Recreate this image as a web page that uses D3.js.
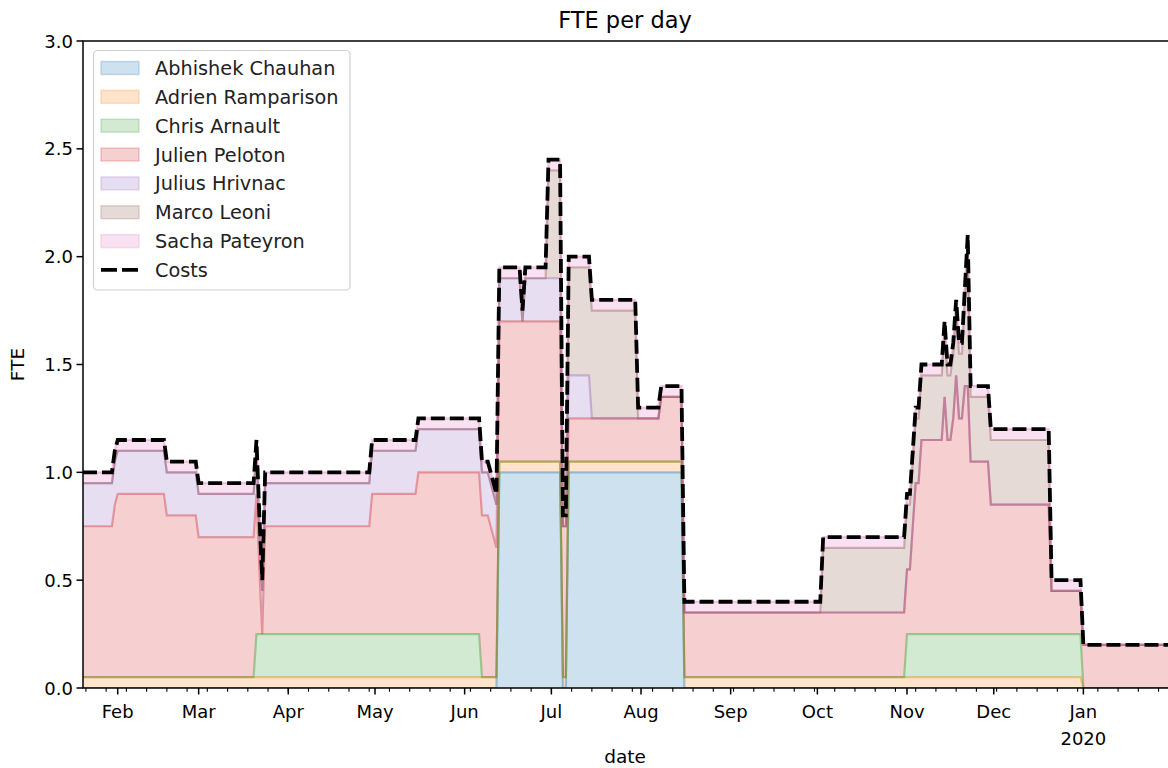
<!DOCTYPE html>
<html>
<head>
<meta charset="utf-8">
<script src="https://cdn.jsdelivr.net/npm/d3@7"></script>
<style>
  body { margin: 0; background: #fff; }
  svg { display: block; font-family: "DejaVu Sans", sans-serif; }
</style>
</head>
<body>
<svg id="chart" width="1168" height="768"></svg>
<script>
// FTE per person as change points: [first day, value held from that day on]
var names = ["Abhishek Chauhan", "Adrien Ramparison", "Chris Arnault", "Julien Peloton", "Julius Hrivnac", "Marco Leoni", "Sacha Pateyron"];
var colors = ["#1f77b4", "#ff7f0e", "#2ca02c", "#d62728", "#9467bd", "#8c564b", "#e377c2"];

var abhishek = [["2019-01-20", 0], ["2019-06-13", 1.0], ["2019-07-05", 0], ["2019-07-07", 1.0], ["2019-08-16", 0]];
var adrien = [["2019-01-20", 0.05], ["2020-01-01", 0]];
var chris = [["2019-01-20", 0], ["2019-03-21", 0.2], ["2019-06-07", 0], ["2019-11-01", 0.2], ["2020-01-01", 0]];
var julien = [["2019-01-20", 0.7], ["2019-01-31", 0.8], ["2019-02-01", 0.85], ["2019-02-18", 0.75], ["2019-03-01", 0.65],
  ["2019-03-22", 0.3], ["2019-03-23", 0], ["2019-03-24", 0.5], ["2019-04-30", 0.65], ["2019-05-16", 0.75],
  ["2019-06-10", 0.7], ["2019-06-11", 0.65], ["2019-06-12", 0.6], ["2019-06-13", 0.65], ["2019-07-05", 0.7],
  ["2019-07-07", 0.2], ["2019-08-08", 0.3], ["2019-11-03", 0.5], ["2019-11-04", 0.7], ["2019-11-06", 0.9],
  ["2019-11-14", 1.1], ["2019-11-15", 0.9], ["2019-11-17", 1.0], ["2019-11-18", 1.2], ["2019-11-19", 1.0],
  ["2019-11-21", 1.15], ["2019-11-23", 0.8], ["2019-11-30", 0.6], ["2019-12-21", 0.2]];
var julius = [["2019-01-20", 0.2], ["2019-06-21", 0], ["2019-06-22", 0.2], ["2019-07-05", 0], ["2019-07-07", 0.2], ["2019-07-15", 0]];
var marco = [["2019-01-20", 0], ["2019-06-30", 0.5], ["2019-07-05", 0], ["2019-07-07", 0.5], ["2019-07-31", 0],
  ["2019-10-03", 0.3], ["2019-11-21", 0.4], ["2019-11-22", 0.65], ["2019-11-23", 0.3], ["2019-12-21", 0]];
var sacha = [["2019-01-20", 0.05], ["2020-01-01", 0]];

var costs = [["2019-01-20", 1.0], ["2019-01-31", 1.1], ["2019-02-01", 1.15], ["2019-02-18", 1.05], ["2019-03-01", 0.95],
  ["2019-03-21", 1.15], ["2019-03-22", 0.8], ["2019-03-23", 0.5], ["2019-03-24", 1.0], ["2019-04-30", 1.15],
  ["2019-05-16", 1.25], ["2019-06-07", 1.05], ["2019-06-10", 1.0], ["2019-06-11", 0.95], ["2019-06-12", 0.9],
  ["2019-06-13", 1.95], ["2019-06-21", 1.75], ["2019-06-22", 1.95], ["2019-06-30", 2.45], ["2019-07-05", 0.8],
  ["2019-07-07", 2.0], ["2019-07-15", 1.8], ["2019-07-31", 1.3], ["2019-08-08", 1.4], ["2019-08-16", 0.4],
  ["2019-10-03", 0.7], ["2019-11-01", 0.9], ["2019-11-03", 1.1], ["2019-11-04", 1.3], ["2019-11-06", 1.5],
  ["2019-11-14", 1.7], ["2019-11-15", 1.5], ["2019-11-17", 1.6], ["2019-11-18", 1.8], ["2019-11-19", 1.6],
  ["2019-11-21", 1.85], ["2019-11-22", 2.1], ["2019-11-23", 1.4], ["2019-11-30", 1.2], ["2019-12-21", 0.5],
  ["2020-01-01", 0.2]];

var firstDay = "2019-01-20", lastDay = "2020-02-01";
var yTicks = [0, 0.5, 1.0, 1.5, 2.0, 2.5, 3.0];

var parse = d3.timeParse("%Y-%m-%d");
var series = [abhishek, adrien, chris, julien, julius, marco, sacha];

function valueOn(changes, day) {
    var v = 0;
    changes.forEach(function (c) { if (parse(c[0]) <= day) v = c[1]; });
    return v;
}

// one row per day, like the daily frame the chart was made from
var start = parse(firstDay), end = parse(lastDay);
var days = d3.timeDay.range(start, d3.timeDay.offset(end, 1));
var rows = days.map(function (day) {
    var row = { date: day, Costs: valueOn(costs, day) };
    names.forEach(function (n, i) { row[n] = valueOn(series[i], day); });
    return row;
});

var margin = { left: 83, right: 1173, top: 41, bottom: 688 };
var svg = d3.select("#chart");

var x = d3.scaleTime().domain([start, end]).range([margin.left, margin.right]);
var y = d3.scaleLinear().domain([0, 3]).range([margin.bottom, margin.top]);

svg.append("defs").append("clipPath").attr("id", "plot")
    .append("rect")
    .attr("x", margin.left).attr("y", margin.top)
    .attr("width", margin.right - margin.left).attr("height", margin.bottom - margin.top);

var stacked = d3.stack().keys(names)(rows);

var area = d3.area()
    .x(function (d) { return x(d.data.date); })
    .y0(function (d) { return y(d[0]); })
    .y1(function (d) { return y(d[1]); });
var topLine = d3.line()
    .x(function (d) { return x(d.data.date); })
    .y(function (d) { return y(d[1]); });

var plot = svg.append("g").attr("clip-path", "url(#plot)");
stacked.forEach(function (layer, i) {
    plot.append("path")
        .attr("d", topLine(layer))
        .attr("fill", "none")
        .attr("stroke", colors[i])
        .attr("stroke-opacity", 0.4)
        .attr("stroke-width", 2.2);
    plot.append("path")
        .attr("d", area(layer))
        .attr("fill", colors[i])
        .attr("fill-opacity", 0.22);
});

var costLine = d3.line()
    .x(function (d) { return x(d.date); })
    .y(function (d) { return y(d.Costs); });
plot.append("path")
    .attr("d", costLine(rows))
    .attr("fill", "none")
    .attr("stroke", "#000")
    .attr("stroke-width", 3.8)
    .attr("stroke-dasharray", "14,5");

// axes
var xAxisG = svg.append("g");
var majors = d3.timeMonth.range(d3.timeMonth.ceil(start), end);
var minors = d3.timeMonday.range(start, end);
xAxisG.selectAll(".minor").data(minors).enter().append("line")
    .attr("x1", function (d) { return x(d); }).attr("x2", function (d) { return x(d); })
    .attr("y1", margin.bottom).attr("y2", margin.bottom + 3.7)
    .attr("stroke", "#000").attr("stroke-width", 1.1);
xAxisG.selectAll(".major").data(majors).enter().append("line")
    .attr("x1", function (d) { return x(d); }).attr("x2", function (d) { return x(d); })
    .attr("y1", margin.bottom).attr("y2", margin.bottom + 6.5)
    .attr("stroke", "#000").attr("stroke-width", 1.5);
var fmtMonth = d3.timeFormat("%b"), fmtYear = d3.timeFormat("%Y");
majors.forEach(function (d) {
    xAxisG.append("text")
        .attr("x", x(d)).attr("y", 718)
        .attr("text-anchor", "middle")
        .attr("font-size", 18).attr("fill", "#000")
        .text(fmtMonth(d));
    if (d.getMonth() === 0) {
        xAxisG.append("text")
            .attr("x", x(d)).attr("y", 745)
            .attr("text-anchor", "middle")
            .attr("font-size", 18).attr("fill", "#000")
            .text(fmtYear(d));
    }
});

var yAxisG = svg.append("g");
yTicks.forEach(function (v) {
    yAxisG.append("line")
        .attr("x1", margin.left - 6.5).attr("x2", margin.left)
        .attr("y1", y(v)).attr("y2", y(v))
        .attr("stroke", "#000").attr("stroke-width", 1.5);
    yAxisG.append("text")
        .attr("x", margin.left - 10).attr("y", y(v) + 6.5)
        .attr("text-anchor", "end")
        .attr("font-size", 18).attr("fill", "#000")
        .text(d3.format(".1f")(v));
});

// spines
svg.append("rect")
    .attr("x", margin.left).attr("y", margin.top)
    .attr("width", margin.right - margin.left).attr("height", margin.bottom - margin.top)
    .attr("fill", "none").attr("stroke", "#000").attr("stroke-width", 1.5);

svg.append("text")
    .attr("x", 625).attr("y", 28)
    .attr("text-anchor", "middle").attr("font-size", 22.5).attr("fill", "#000")
    .text("FTE per day");
svg.append("text")
    .attr("x", 625).attr("y", 763)
    .attr("text-anchor", "middle").attr("font-size", 18.5).attr("fill", "#000")
    .text("date");
svg.append("text")
    .attr("transform", "translate(24," + ((margin.top + margin.bottom) / 2) + ") rotate(-90)")
    .attr("text-anchor", "middle").attr("font-size", 18.5).attr("fill", "#000")
    .text("FTE");

// legend
var legend = svg.append("g");
legend.append("rect")
    .attr("x", 93.5).attr("y", 50.5).attr("width", 256.5).attr("height", 239.5)
    .attr("rx", 4).attr("fill", "#fff").attr("fill-opacity", 0.8)
    .attr("stroke", "#d0d0d0").attr("stroke-width", 1.2);
names.concat(["Costs"]).forEach(function (n, i) {
    var cy = 68 + i * 28.85;
    if (i < names.length) {
        legend.append("rect")
            .attr("x", 101).attr("y", cy - 6.5).attr("width", 38).attr("height", 13)
            .attr("fill", colors[i]).attr("fill-opacity", 0.22)
            .attr("stroke", colors[i]).attr("stroke-opacity", 0.22).attr("stroke-width", 1.5);
    } else {
        legend.append("line")
            .attr("x1", 101).attr("x2", 139).attr("y1", cy).attr("y2", cy)
            .attr("stroke", "#000").attr("stroke-width", 3.8).attr("stroke-dasharray", "16,5");
    }
    legend.append("text")
        .attr("x", 155).attr("y", cy + 7)
        .attr("font-size", 19.3).attr("fill", "#222")
        .text(n);
});
</script>
</body>
</html>
